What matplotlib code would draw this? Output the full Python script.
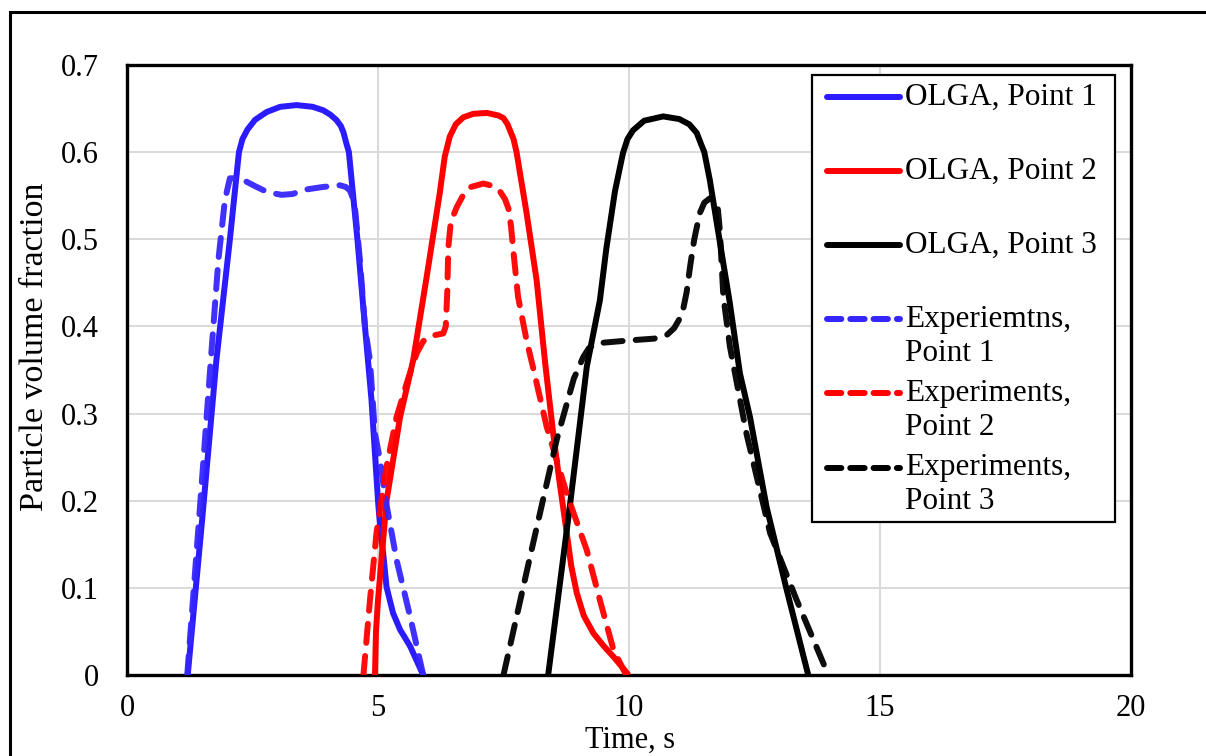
import matplotlib
matplotlib.use("Agg")
import matplotlib.pyplot as plt
from matplotlib.patches import Rectangle
from matplotlib.lines import Line2D

plt.rcParams['font.family'] = ['Liberation Serif', 'DejaVu Serif']

# OLGA, point 1
t_olga1 = [1.21, 1.5, 1.78, 2.05, 2.23, 2.3, 2.4, 2.55, 2.78, 3.05, 3.38, 3.7, 3.91,
           4.05, 4.17, 4.26, 4.31, 4.37, 4.42, 4.59, 4.74, 4.87, 5.0, 5.05, 5.11, 5.17,
           5.3, 5.44, 5.64, 5.9]
y_olga1 = [0, 0.18, 0.361, 0.5, 0.6, 0.615, 0.626, 0.637, 0.646, 0.652, 0.654, 0.652, 0.648,
           0.643, 0.637, 0.63, 0.623, 0.61, 0.6, 0.5, 0.4, 0.316, 0.2, 0.165, 0.136, 0.101,
           0.071, 0.052, 0.033, 0]

# OLGA, point 2
t_olga2 = [4.94, 4.96, 5.0, 5.17, 5.44, 5.70, 5.97, 6.23, 6.33, 6.43, 6.55, 6.7, 6.9,
           7.17, 7.4, 7.5, 7.58, 7.65, 7.7, 7.76, 7.96, 8.16, 8.33, 8.49, 8.62, 8.76,
           8.85, 8.96, 9.1, 9.29, 9.5, 9.69, 9.85, 9.99]
y_olga2 = [0, 0.05, 0.086, 0.2, 0.296, 0.361, 0.457, 0.553, 0.595, 0.618, 0.632, 0.64, 0.644,
           0.645, 0.642, 0.639, 0.632, 0.622, 0.615, 0.6, 0.53, 0.453, 0.358, 0.277, 0.22, 0.163,
           0.125, 0.094, 0.068, 0.048, 0.033, 0.021, 0.01, 0]

# OLGA, point 3
t_olga3 = [8.39, 8.82, 9.16, 9.42, 9.55, 9.72, 9.88, 9.97, 10.08, 10.3, 10.68, 11.0,
           11.2, 11.35, 11.43, 11.5, 11.61, 11.88, 12.0, 12.21, 12.41, 12.74, 13.14, 13.57]
y_olga3 = [0, 0.193, 0.354, 0.43, 0.49, 0.555, 0.599, 0.615, 0.625, 0.636, 0.641, 0.638,
           0.632, 0.622, 0.61, 0.6, 0.568, 0.472, 0.43, 0.346, 0.296, 0.193, 0.098, 0]

# experiments, point 1
t_exp1 = [1.2, 1.45, 1.69, 1.82, 1.95, 2.05, 2.2, 2.35, 2.55, 2.8, 3.08, 3.3, 3.55,
          3.9, 4.24, 4.36, 4.44, 4.5, 4.54, 4.64, 4.74, 4.84, 4.94, 5.04, 5.14, 5.37,
          5.64, 5.9]
y_exp1 = [0, 0.19, 0.377, 0.476, 0.545, 0.57, 0.57, 0.567, 0.561, 0.554, 0.551, 0.552, 0.557,
          0.56, 0.562, 0.56, 0.556, 0.547, 0.537, 0.476, 0.40, 0.361, 0.277, 0.247, 0.205, 0.132,
          0.067, 0]

# experiments, point 2
t_exp2 = [4.71, 4.84, 4.97, 5.17, 5.37, 5.6, 5.77, 5.9, 6.05, 6.30, 6.35, 6.38, 6.40,
          6.45, 6.57, 6.7, 6.85, 7.1, 7.3, 7.43, 7.53, 7.6, 7.65, 7.69, 7.79, 7.96, 8.1,
          8.36, 8.76, 9.16, 9.42, 9.69, 9.89, 9.95]
y_exp2 = [0, 0.086, 0.163, 0.239, 0.296, 0.34, 0.369, 0.383, 0.389, 0.392, 0.4, 0.44, 0.49,
          0.52, 0.537, 0.551, 0.56, 0.564, 0.561, 0.555, 0.546, 0.535, 0.515, 0.49, 0.434, 0.384,
          0.35, 0.285, 0.208, 0.143, 0.086, 0.029, 0.006, 0]

# experiments, point 3
t_exp3 = [7.5, 8.03, 8.56, 8.9, 9.09, 9.2, 9.3, 9.42, 10.02, 10.5, 10.75, 10.9, 11.0,
          11.08, 11.15, 11.22, 11.3, 11.41, 11.5, 11.61, 11.7, 11.77, 11.81, 11.88, 12.01,
          12.34, 12.81, 13.34, 13.97]
y_exp3 = [0, 0.136, 0.27, 0.34, 0.365, 0.375, 0.379, 0.381, 0.384, 0.386, 0.39, 0.398, 0.408,
          0.42, 0.44, 0.47, 0.5, 0.53, 0.542, 0.547, 0.545, 0.535, 0.51, 0.434, 0.377,
          0.277, 0.163, 0.086, 0]

labels = ['OLGA, Point 1', 'OLGA, Point 2', 'OLGA, Point 3',
          'Experiemtns,\nPoint 1', 'Experiments,\nPoint 2', 'Experiments,\nPoint 3']

BLUE = '#2b1bff'
BLUE_D = '#3526ff'
RED = '#ff0000'
BLACK = '#000000'

series = [
    (t_olga1, y_olga1, BLUE, '-'),
    (t_olga2, y_olga2, RED, '-'),
    (t_olga3, y_olga3, BLACK, '-'),
    (t_exp1, y_exp1, BLUE_D, '--'),
    (t_exp2, y_exp2, RED, '--'),
    (t_exp3, y_exp3, BLACK, '--'),
]

fig = plt.figure(figsize=(12.06, 7.56), dpi=100)
ax = fig.add_axes([127 / 1206, 1 - 675 / 756, 1004 / 1206, 610 / 756])

# outer chart frame (right and bottom edges fall outside the picture)
fig.patches.append(Rectangle((10 / 1206, -0.1), 1.1, 1 - 12 / 756 + 0.1,
                             transform=fig.transFigure, fill=False,
                             edgecolor='black', linewidth=2.2))

lw = 4.3
for t, y, c, ls in series:
    line, = ax.plot(t, y, color=c, linewidth=lw, solid_joinstyle='round',
                    dash_joinstyle='round', solid_capstyle='butt',
                    dash_capstyle='round', zorder=3)
    if ls == '--':
        line.set_dashes((3.2, 2.2))
        line.set_alpha(0.95)

ax.set_xlim(0, 20)
ax.set_ylim(0, 0.7)
ax.set_xticks([0, 5, 10, 15, 20])
ax.set_yticks([0, 0.1, 0.2, 0.3, 0.4, 0.5, 0.6, 0.7])
ax.set_yticklabels(['0', '0.1', '0.2', '0.3', '0.4', '0.5', '0.6', '0.7'])
ax.tick_params(length=0, labelsize=22)
ax.tick_params(axis='y', pad=20)
ax.tick_params(axis='x', pad=14)
ax.grid(color='#d9d9d9', linewidth=1.4, zorder=0)
ax.set_axisbelow(True)
for s in ax.spines.values():
    s.set_linewidth(2.4)
    s.set_color('black')

ax.set_xlabel('Time, s', fontsize=22)
ax.set_ylabel('Particle volume fraction', fontsize=24.5)
ax.xaxis.set_label_coords(0.501, -0.107)
ax.xaxis.label.set_verticalalignment('center')
ax.yaxis.set_label_coords(-0.092, 0.538)
ax.yaxis.label.set_verticalalignment('center')

# legend box, laid out like the spreadsheet one
ax.add_patch(Rectangle((0.682, 0.251), 0.302, 0.733, transform=ax.transAxes,
                       facecolor='white', edgecolor='black', linewidth=1.6, zorder=5))
y0 = 0.9475
step = 0.1215
line_step = 0.0557
for i, (t, y, c, ls) in enumerate(series):
    yy = y0 - i * step
    h = Line2D([0.697, 0.770], [yy, yy], transform=ax.transAxes, color=c,
               linewidth=lw, solid_capstyle='round', dash_capstyle='round', zorder=6)
    if ls == '--':
        h.set_dashes((2.4, 1.5))
    ax.add_line(h)
    for j, part in enumerate(labels[i].split('\n')):
        ax.text(0.775, yy - j * line_step, part, transform=ax.transAxes,
                fontsize=22.5, ha='left', va='center', zorder=6)

fig.savefig('out.png', dpi=100)
